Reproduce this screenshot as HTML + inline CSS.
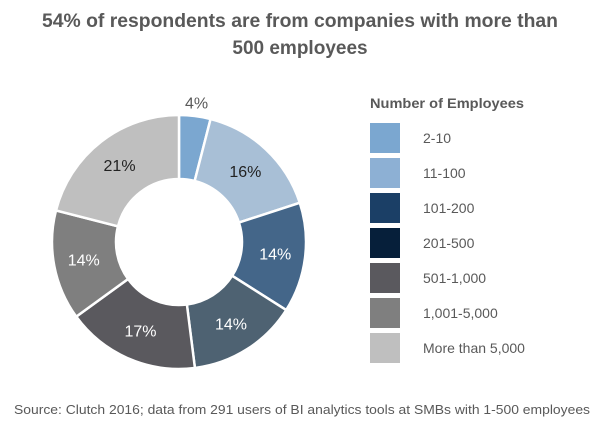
<!DOCTYPE html>
<html><head><meta charset="utf-8"><style>
body{margin:0;width:600px;height:420px;background:#fff;font-family:"Liberation Sans",sans-serif;overflow:hidden}
</style></head><body>
<svg id="s" width="600" height="420" xmlns="http://www.w3.org/2000/svg" font-family="Liberation Sans, sans-serif">
<text x="42" y="27" textLength="516" lengthAdjust="spacingAndGlyphs" font-size="19" font-weight="bold" fill="#595959">54% of respondents are from companies with more than</text>
<text x="300" y="54" text-anchor="middle" font-size="19" font-weight="bold" fill="#595959">500 employees</text>
<g id="pie"></g>
<text x="370" y="108" textLength="154" lengthAdjust="spacingAndGlyphs" font-size="13.5" font-weight="bold" fill="#595959">Number of Employees</text>
<g id="leg" font-size="14" fill="#595959"></g>
<text x="14" y="414" textLength="576" lengthAdjust="spacingAndGlyphs" font-size="12.5" fill="#595959">Source: Clutch 2016; data from 291 users of BI analytics tools at SMBs with 1-500 employees</text>
</svg>
<script>
var cx=179,cy=242,R=127,r=63;
var v=[4,16,14,14,17,14,21];
var c=["#7BA7D0","#A8BFD6","#446689","#4E6272","#5A595E","#7F7F7F","#BFBFBF"];
var lc=["#7BA7D0","#8DB0D4","#1B3F66","#061F3A","#5A595E","#7F7F7F","#BFBFBF"];
var tc=["#595959","#222","#fff","#fff","#fff","#fff","#222"];
var names=["2-10","11-100","101-200","201-500","501-1,000","1,001-5,000","More than 5,000"];
var h="",a=0;
function p(rad,ang){return [cx+rad*Math.sin(ang),cy-rad*Math.cos(ang)];}
for(var i=0;i<v.length;i++){
 var a0=a*2*Math.PI/100,a1=(a+v[i])*2*Math.PI/100;a+=v[i];
 var la=(a1-a0)>Math.PI?1:0;
 var P1=p(R,a0),P2=p(R,a1),P3=p(r,a1),P4=p(r,a0);
 h+='<path d="M'+P1+' A'+R+','+R+' 0 '+la+' 1 '+P2+' L'+P3+' A'+r+','+r+' 0 '+la+' 0 '+P4+'Z" fill="'+c[i]+'" stroke="#fff" stroke-width="2.5"/>';
 var m=(a0+a1)/2,L=i==0?p(140,m):p(97,m);
 h+='<text x="'+L[0]+'" y="'+(L[1]+5.5)+'" text-anchor="middle" font-size="16" fill="'+tc[i]+'">'+v[i]+'%</text>';
}
document.getElementById("pie").innerHTML=h;
var g="";
for(var i=0;i<7;i++){var y=123+i*35;
 g+='<rect x="370" y="'+y+'" width="30" height="30" fill="'+lc[i]+'"/><text x="423" y="'+(y+20)+'">'+names[i]+'</text>';}
document.getElementById("leg").innerHTML=g;
</script>
</body></html>
